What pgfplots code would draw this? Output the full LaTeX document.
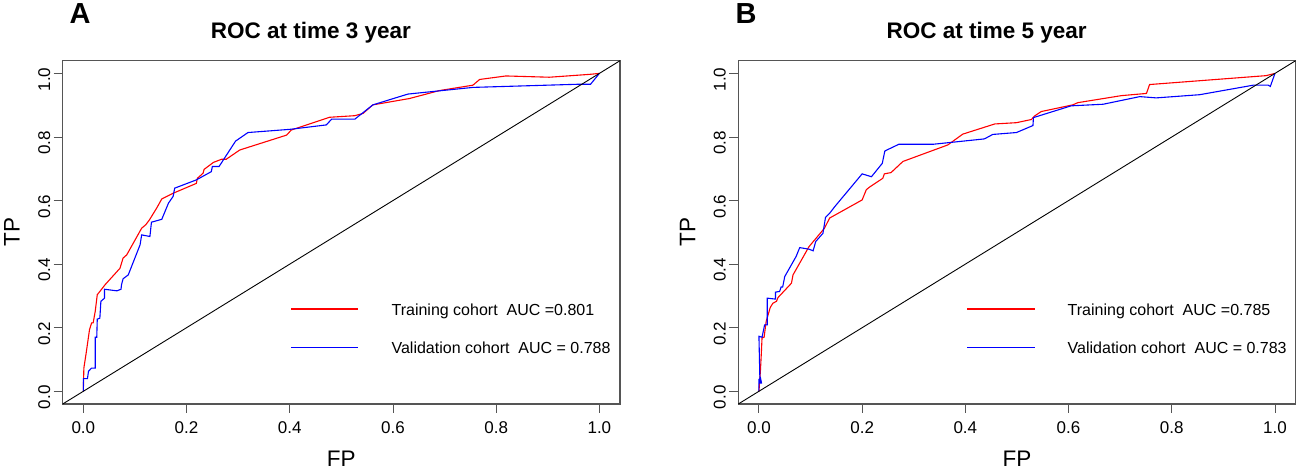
\documentclass[border=0pt]{standalone}
\usepackage{pgfplots}
\pgfplotsset{compat=1.18}
\usepackage{fontspec}
\setmainfont{Liberation Sans}
\definecolor{boxgray}{HTML}{555555}
\definecolor{legred}{RGB}{255,0,0}
\definecolor{legblue}{RGB}{0,0,255}
\tikzset{legtext/.style={anchor=base west, inner sep=0pt, font=\fontsize{16}{16}\selectfont}}
\pgfplotsset{
  rocpanel/.style={
    scale only axis, width=557.3pt, height=343.3pt, anchor=south west,
    xmin=-0.04, xmax=1.04, ymin=-0.04, ymax=1.04,
    xtick={0,0.2,0.4,0.6,0.8,1}, ytick={0,0.2,0.4,0.6,0.8,1},
    tick pos=left, tick align=outside, major tick length=9pt,
    tick style={draw=boxgray, line width=0.9pt},
    axis line style={draw=boxgray, line width=1.2pt},
    /pgf/number format/assume math mode=true,
    /pgf/number format/.cd, fixed, fixed zerofill, precision=1, /pgfplots/.cd,
    ticklabel style={font=\fontsize{17}{17}\selectfont},
    xticklabel style={yshift=-5pt},
    yticklabel style={rotate=90, anchor=south, xshift=-6pt},
    xlabel={FP}, ylabel={TP},
    label style={font=\fontsize{22.5}{22.5}\selectfont},
    xlabel style={at={(axis description cs:0.5,-0.16)}, anchor=center},
    ylabel style={at={(axis description cs:-0.091,0.5)}, anchor=center, rotate=0},
    title style={at={(axis description cs:0.4455,1.063)}, anchor=center, font=\bfseries\fontsize{22.5}{22.5}\selectfont},
    clip=false,
  },
}
\begin{document}
\begin{tikzpicture}[x=1pt,y=1pt]
\useasboundingbox (0,0) rectangle (1299,469);
\node[font=\bfseries\fontsize{29}{29}\selectfont] at (80,455) {A};
\node[font=\bfseries\fontsize{29}{29}\selectfont] at (746,455) {B};
\begin{axis}[rocpanel, at={(62.7pt,65pt)}, title={ROC at time 3 year}]
\fill[legblue] ([yshift=-0.65pt]axis cs:0.403,0.138) rectangle ([yshift=0.65pt]axis cs:0.532,0.138);
\fill[legred] ([yshift=-0.65pt]axis cs:0.403,0.259) rectangle ([yshift=0.65pt]axis cs:0.532,0.259);
\node[legtext] at (axis cs:0.597,0.2375) {Training cohort~ AUC =0.801};
\node[legtext] at (axis cs:0.597,0.1175) {Validation cohort~ AUC = 0.788};
\addplot[red, line width=1.1pt] coordinates {
(0,0) (0.001,0.073) (0.005,0.115) (0.012,0.194) (0.016,0.215) (0.019,0.215) (0.023,0.251) (0.027,0.304) (0.032,0.314) (0.042,0.335) (0.071,0.387) (0.077,0.419) (0.084,0.429) (0.113,0.513) (0.121,0.524) (0.128,0.539) (0.142,0.576) (0.152,0.605) (0.174,0.623) (0.219,0.654) (0.221,0.670) (0.232,0.686) (0.234,0.698) (0.252,0.720) (0.268,0.730) (0.277,0.730) (0.303,0.759) (0.394,0.806) (0.403,0.822) (0.477,0.862) (0.526,0.867) (0.542,0.874) (0.561,0.901) (0.632,0.921) (0.690,0.946) (0.755,0.963) (0.768,0.981) (0.819,0.992) (0.903,0.988) (0.981,0.997) (1,1)};
\addplot[blue, line width=1.1pt] coordinates {
(0,0) (0,0.040) (0.008,0.040) (0.010,0.063) (0.016,0.073) (0.023,0.073) (0.023,0.170) (0.026,0.170) (0.027,0.227) (0.032,0.230) (0.034,0.283) (0.041,0.293) (0.041,0.321) (0.065,0.316) (0.073,0.321) (0.074,0.335) (0.077,0.354) (0.087,0.366) (0.110,0.461) (0.113,0.492) (0.129,0.487) (0.132,0.532) (0.152,0.541) (0.165,0.592) (0.174,0.613) (0.177,0.639) (0.219,0.665) (0.248,0.691) (0.250,0.707) (0.263,0.707) (0.295,0.787) (0.319,0.814) (0.400,0.824) (0.471,0.838) (0.481,0.856) (0.526,0.856) (0.561,0.901) (0.629,0.935) (0.755,0.956) (0.961,0.966) (0.983,0.966) (1,1)};
\addplot[black, line width=0.9pt] coordinates {(-0.04,-0.04) (1.04,1.04)};
\end{axis}
\begin{axis}[rocpanel, at={(738.3pt,65pt)}, title={ROC at time 5 year}]
\fill[legblue] ([yshift=-0.65pt]axis cs:0.404,0.138) rectangle ([yshift=0.65pt]axis cs:0.534,0.138);
\fill[legred] ([yshift=-0.65pt]axis cs:0.404,0.259) rectangle ([yshift=0.65pt]axis cs:0.534,0.259);
\node[legtext] at (axis cs:0.598,0.2375) {Training cohort~ AUC =0.785};
\node[legtext] at (axis cs:0.598,0.1175) {Validation cohort~ AUC = 0.783};
\addplot[red, line width=1.1pt] coordinates {
(0,0) (0.003,0.068) (0.0045,0.115) (0.006,0.168) (0.010,0.170) (0.014,0.220) (0.022,0.264) (0.027,0.277) (0.034,0.283) (0.037,0.295) (0.063,0.340) (0.066,0.366) (0.097,0.455) (0.127,0.513) (0.137,0.545) (0.200,0.602) (0.208,0.634) (0.214,0.642) (0.240,0.670) (0.243,0.684) (0.256,0.688) (0.279,0.723) (0.366,0.775) (0.395,0.809) (0.457,0.841) (0.499,0.845) (0.528,0.855) (0.534,0.866) (0.547,0.880) (0.608,0.901) (0.618,0.908) (0.702,0.930) (0.751,0.937) (0.757,0.965) (0.983,0.993) (1,1)};
\addplot[blue, line width=1.1pt] coordinates {
(0,0) (0,0.037) (0.003,0.042) (0.005,0.026) (0.002,0.026) (0,0.173) (0.006,0.170) (0.011,0.209) (0.016,0.209) (0.016,0.293) (0.032,0.290) (0.032,0.312) (0.040,0.314) (0.043,0.328) (0.046,0.328) (0.050,0.361) (0.072,0.424) (0.079,0.452) (0.097,0.447) (0.105,0.442) (0.110,0.471) (0.124,0.497) (0.129,0.547) (0.137,0.560) (0.147,0.581) (0.200,0.684) (0.218,0.675) (0.239,0.717) (0.244,0.756) (0.271,0.777) (0.337,0.777) (0.437,0.794) (0.453,0.808) (0.499,0.814) (0.531,0.836) (0.532,0.861) (0.605,0.898) (0.667,0.903) (0.738,0.927) (0.770,0.923) (0.854,0.933) (0.958,0.963) (0.987,0.963) (0.991,0.959) (1,1)};
\addplot[black, line width=0.9pt] coordinates {(-0.04,-0.04) (1.04,1.04)};
\end{axis}
\end{tikzpicture}
\end{document}
